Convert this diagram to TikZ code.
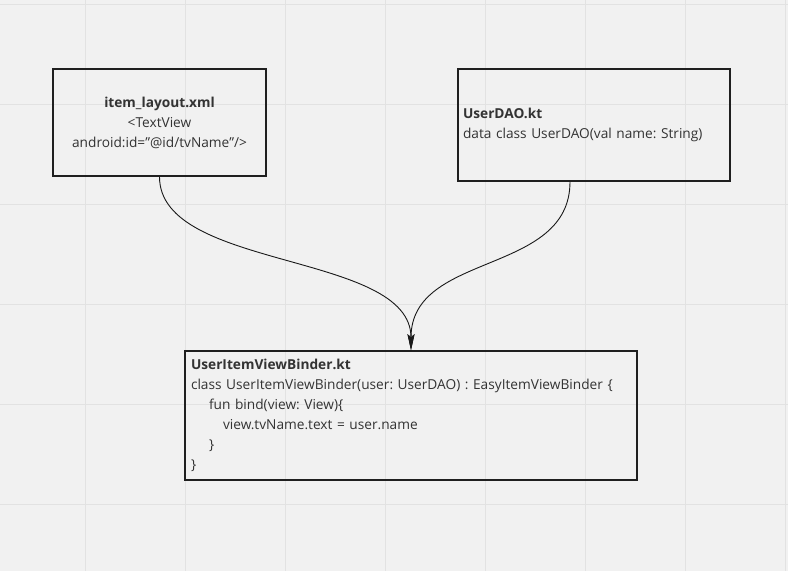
\documentclass[tikz,border=0pt]{standalone}
\usepackage{fontspec}
\setmainfont{Open Sans}
\usetikzlibrary{arrows.meta}
\frenchspacing

\definecolor{boardbg}{HTML}{F1F1F1}
\definecolor{gridline}{HTML}{E2E2E2}
\definecolor{inktext}{HTML}{333333}

\tikzset{
  codebox/.style={draw=black!88, line width=1.6pt, rectangle, text=inktext,
    font=\fontsize{13.7}{20}\selectfont, inner sep=0pt},
  link/.style={draw=black!90, line width=0.9pt, -{Stealth[length=16pt,width=7pt,inset=3pt]}}
}

\begin{document}
\begin{tikzpicture}[x=1pt,y=-1pt]

  % board
  \fill[boardbg] (0,0) rectangle (788,571);
  \useasboundingbox (0,0) rectangle (788,571);
  \foreach \gx in {85,185,...,785}
    \draw[gridline, line width=0.8pt] (\gx,0) -- (\gx,571);
  \foreach \gy in {4,104,...,504}
    \draw[gridline, line width=0.8pt] (0,\gy) -- (788,\gy);

  % files
  \node[codebox, minimum width=213pt, minimum height=107pt, align=center] (layout) at (159.5,122.5)
    {\textbf{item\_layout.xml}\\ <TextView\\ android:id=\symbol{34}@id/tvName\symbol{34}/>};
  \node[codebox, minimum width=272pt, minimum height=112pt, text width=262pt, inner xsep=5pt, align=left] (dao) at (594,125)
    {\textbf{UserDAO.kt}\\ data class UserDAO(val name: String)};
  \node[codebox, minimum width=452pt, minimum height=129pt, text width=440pt, inner xsep=6pt, align=left] (binder) at (411,415.5)
    {\textbf{UserItemViewBinder.kt}\\
     class UserItemViewBinder(user: UserDAO) : EasyItemViewBinder \{\\
     \hspace*{18pt}fun bind(view: View)\{\\
     \hspace*{32pt}view.tvName.text = user.name\\
     \hspace*{18pt}\}\\
     \}};
  \coordinate (daoout) at ([xshift=-24pt]dao.south);

  % links
  \draw[link] (layout.south) .. controls +(0,94) and +(0,-99) .. (binder.north);
  \draw[link] (daoout) .. controls +(0,94) and +(0,-99) .. (binder.north);

\end{tikzpicture}
\end{document}
